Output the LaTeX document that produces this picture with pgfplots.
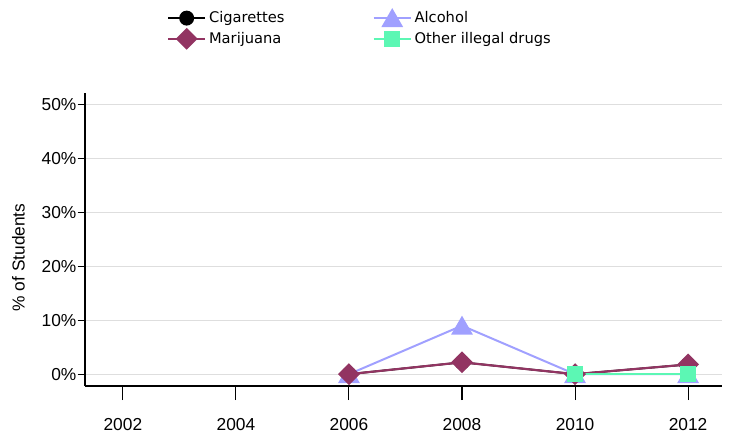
\documentclass[border=0pt]{standalone}
\usepackage{pgfplots}
\pgfplotsset{compat=1.18}
\usepackage{fontspec}
\setmainfont{Liberation Sans}
\newfontfamily\legendfont{DejaVu Sans}
\definecolor{cmar}{HTML}{923462}
\definecolor{calc}{HTML}{A0A0FF}
\definecolor{coth}{HTML}{5CF7B4}
\begin{document}
\begin{tikzpicture}
\path[use as bounding box] (-63.75pt,-38.25pt) rectangle (484.5pt,289.5pt);
\begin{axis}[
  scale only axis,
  width=477.75pt, height=219.75pt,
  xmin=2001.33, xmax=2012.6,
  ymin=-2.2, ymax=52.2,
  axis x line*=bottom, axis y line*=left,
  axis line style={-, line width=0.8pt},
  xtick={2002,2004,...,2012},
  ytick={0,10,...,50},
  minor ytick={0,10,...,50},
  yticklabel={\pgfmathprintnumber{\tick}\%},
  /pgf/number format/1000 sep={},
  /pgf/number format/assume math mode=true,
  tick align=outside,
  major tick length=10.5pt,
  minor tick length=5.5pt,
  tick style={line width=0.8pt, black},
  major y tick style={draw=none},
  minor y tick style={line width=0.8pt, black},
  ticklabel style={font=\fontsize{13}{15}\selectfont},
  xticklabel style={yshift=-10pt},
  yticklabel style={xshift=7.5pt},
  ymajorgrids,
  grid style={line width=0.8pt, black!13},
  ylabel={\% of Students},
  every axis y label/.style={at={(rel axis cs:0,0.4386)}, xshift=-50pt, rotate=90, anchor=center, font=\fontsize{13}{15}\selectfont},
  legend columns=2,
  legend style={at={(rel axis cs:0.432,1.22)}, anchor=center, draw=none, fill=none,
    font=\legendfont\fontsize{11}{13}\selectfont, inner sep=0pt,
    /tikz/every even column/.style={column sep=64pt},
    /tikz/row sep=1.5pt,
    nodes={inner sep=2pt}},
  legend cell align=left,
  legend image code/.code={\draw[mark repeat=2,mark phase=2] plot coordinates {(0pt,0pt)(14pt,0pt)(28pt,0pt)};},
]
\addplot[black, line width=1.4pt, mark=*, mark size=4.9pt] coordinates {(2006,0) (2008,2.2) (2010,0) (2012,1.8)};
\addlegendentry{Cigarettes}
\addplot[calc, line width=1.5pt, mark=triangle*, mark size=8pt, mark options={yshift=-2pt}] coordinates {(2006,0) (2008,9) (2010,0) (2012,0)};
\addlegendentry{Alcohol}
\addplot[cmar, line width=1.6pt, mark=square*, mark size=5pt, mark options={rotate=45}] coordinates {(2006,0) (2008,2.2) (2010,0) (2012,1.8)};
\addlegendentry{Marijuana}
\addplot[coth, line width=1.5pt, mark=square*, mark size=5.2pt] coordinates {(2010,0) (2012,0)};
\addlegendentry{Other illegal drugs}
\end{axis}
\end{tikzpicture}
\end{document}
